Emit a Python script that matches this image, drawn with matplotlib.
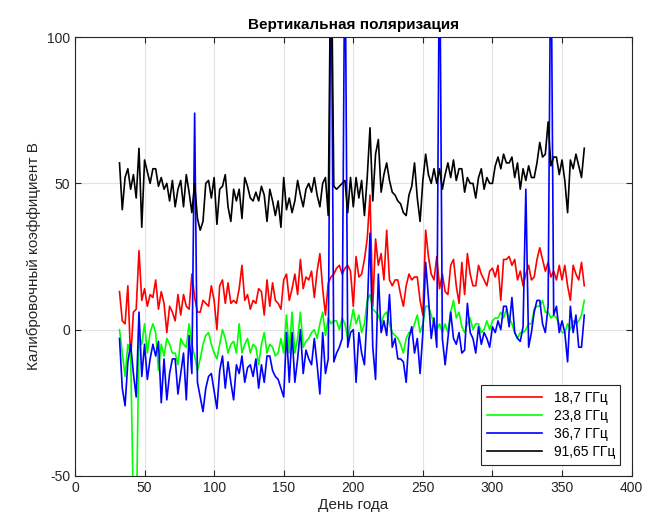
import numpy as np
import matplotlib
matplotlib.use("Agg")
import matplotlib.pyplot as plt

plt.rcParams['font.family'] = ['Liberation Sans', 'DejaVu Sans']
plt.rcParams['axes.unicode_minus'] = False

# day of year, every 2nd day
days = np.arange(32, 367, 2)

# 18,7 GHz
red = [13, 3, 2, 15, -10, 6, 7, 27, 10, 14,
       8, 12, 11, 17, 7, 13, 9, -1, 8, 6,
       3, 12, 5, 12, 8, 7, 19, 11, 6, 6,
       10, 9, 8, 15, 10, 0, 15, 17, 9, 16,
       9, 10, 9, 14, 22, 10, 12, 7, 10, 9,
       14, 13, 5, 17, 8, 16, 10, 9, 7, 17,
       19, 10, 14, 19, 12, 24, 14, 18, 17, 20,
       11, 20, 26, 14, 5, 16, 18, 19, 21, 22,
       19, 21, 22, 20, 8, 25, 18, 19, 24, 31,
       46, 8, 31, 22, 26, 17, 34, 17, 15, 17,
       17, 12, 8, 15, 19, 17, 18, 18, 10, 5,
       34, 25, 19, 17, 25, 14, 19, 13, 12, 22,
       24, 15, 9, 23, 12, 26, 19, 15, 15, 22,
       19, 17, 15, 20, 21, 18, 22, 10, 24, 24,
       25, 22, 24, 17, 20, 15, 19, 22, 17, 18,
       24, 28, 24, 20, 23, 18, 20, 17, 22, 17,
       22, 15, 10, 22, 19, 17, 23, 15]

# 23,8 GHz
green = [0, -8, -16, -5, -8, -62, -70, -2, -5, 2,
         -8, -1, 2, -1, -14, -5, -9, -3, -5, -8,
         -8, -12, -3, -5, -6, 2, -5, -9, -14, -10,
         -5, -2, -1, -5, -8, -10, -5, 0, -3, -8,
         -5, -4, -8, 2, -8, -5, -3, -8, -5, -6,
         -12, -5, -1, -8, -5, -6, -9, -8, -3, -8,
         5, -8, 6, -8, -3, 6, -6, -4, -3, -1,
         0, -3, 2, 6, -2, 4, 2, 3, 3, 0,
         4, 2, -3, 2, 7, 2, 5, -1, 2, 10,
         12, 7, 6, 5, 2, 5, 6, 2, -1, -2,
         -3, -5, -8, -3, -1, -1, 2, 5, -1, 2,
         8, 8, 5, 2, 0, 2, -1, 2, -1, 6,
         10, 4, 6, 1, -1, 2, 4, 0, 2, 2,
         -1, 0, 3, 0, 3, 4, 4, 6, 4, 7,
         4, 2, -1, -3, -1, -1, 0, 2, 2, 7,
         8, 8, 10, 6, 6, 4, 5, 4, 2, -1,
         -1, 2, 0, 3, 2, 3, 5, 10]

# 36,7 GHz
blue = [-3, -20, -26, -11, -5, -15, -23, 6, -16, -5,
        -17, -10, -5, -9, -4, -25, -10, -24, -15, -10,
        -10, -22, -15, -8, -24, -2, -15, 74, -18, -23,
        -28, -20, -16, -15, -21, -27, -14, -9, -20, -11,
        -18, -24, -12, -15, -9, -18, -13, -12, -16, -10,
        -20, -12, -18, -9, -9, -14, -16, -17, -20, -23,
        -1, -18, -1, -18, -10, 0, -15, -7, -10, -12,
        -3, -12, -22, -1, -15, -10, 140, -11, -8, -6,
        -3, 140, -6, -1, 0, -18, -1, -8, -12, 6,
        33, -6, -17, 19, -1, 3, -2, 12, -6, -3,
        -10, -10, -11, -18, -3, 1, -8, -3, -15, -1,
        23, 11, -3, 4, -6, 140, -3, -12, -3, 6,
        -3, -5, -1, -8, -7, 9, -1, -3, -8, 1,
        -5, -1, -3, -6, 1, -1, 3, 0, 8, 8,
        1, 11, -1, -3, -4, 1, 48, -6, -1, 6,
        10, 10, 2, -1, 8, 140, 5, 8, -1, 3,
        -1, -11, 8, -1, 5, -6, -6, 5]

# 91,65 GHz
black = [57, 41, 52, 55, 48, 53, 45, 62, 35, 58,
         54, 50, 55, 55, 49, 52, 48, 50, 44, 51,
         42, 48, 51, 42, 53, 47, 40, 50, 38, 34,
         37, 50, 51, 45, 52, 36, 48, 49, 53, 42,
         37, 48, 44, 48, 38, 52, 49, 45, 44, 47,
         44, 49, 46, 37, 48, 44, 39, 44, 35, 52,
         41, 45, 40, 44, 51, 46, 42, 48, 50, 47,
         52, 46, 42, 50, 52, 39, 140, 49, 48, 49,
         50, 51, 40, 52, 42, 52, 45, 51, 39, 52,
         69, 44, 60, 65, 47, 53, 57, 51, 47, 46,
         44, 43, 40, 39, 46, 49, 57, 45, 37, 51,
         60, 53, 50, 55, 50, 55, 48, 53, 57, 52,
         58, 51, 55, 55, 47, 52, 50, 50, 45, 52,
         55, 48, 52, 50, 50, 56, 59, 55, 60, 57,
         57, 59, 52, 57, 48, 55, 51, 56, 52, 52,
         57, 64, 59, 60, 71, 56, 59, 59, 53, 58,
         51, 40, 58, 55, 60, 56, 52, 62]

labels = ['18,7 ГГц', '23,8 ГГц', '36,7 ГГц', '91,65 ГГц']
colors = ['#ff0000', '#00ff00', '#0000ff', '#000000']

fig = plt.figure(figsize=(6.48, 5.30), dpi=100)
ax = fig.add_axes([0.1157, 0.102, 0.859, 0.828])

for series, lab, col in zip([red, green, blue, black], labels, colors):
    ax.plot(days, series, color=col, linewidth=1.2, label=lab)

ax.set_xlim(0, 400)
ax.set_ylim(-50, 100)
ax.set_xticks(np.arange(0, 401, 50))
ax.set_yticks([-50, 0, 50, 100])
ax.grid(True, color='#e3e3e3', linewidth=0.8)
ax.set_axisbelow(True)
ax.tick_params(direction='in', length=4, top=True, right=True,
               labelsize=10, colors='#262626', labelcolor='#262626')
for sp in ax.spines.values():
    sp.set_color('#262626')
    sp.set_linewidth(0.8)

ax.set_title('Вертикальная поляризация', fontsize=11, fontweight='bold', pad=6)
ax.set_xlabel('День года', fontsize=11, color='#262626', labelpad=2)
ax.set_ylabel('Калибровочный коэффициент B', fontsize=11, color='#262626', labelpad=4)

leg = ax.legend(loc='lower right', fontsize=10, handlelength=4.0, fancybox=False,
                framealpha=1, edgecolor='#262626', borderaxespad=0.8,
                labelspacing=0.3)
leg.get_frame().set_linewidth(0.8)

fig.savefig('out.png', dpi=100)
